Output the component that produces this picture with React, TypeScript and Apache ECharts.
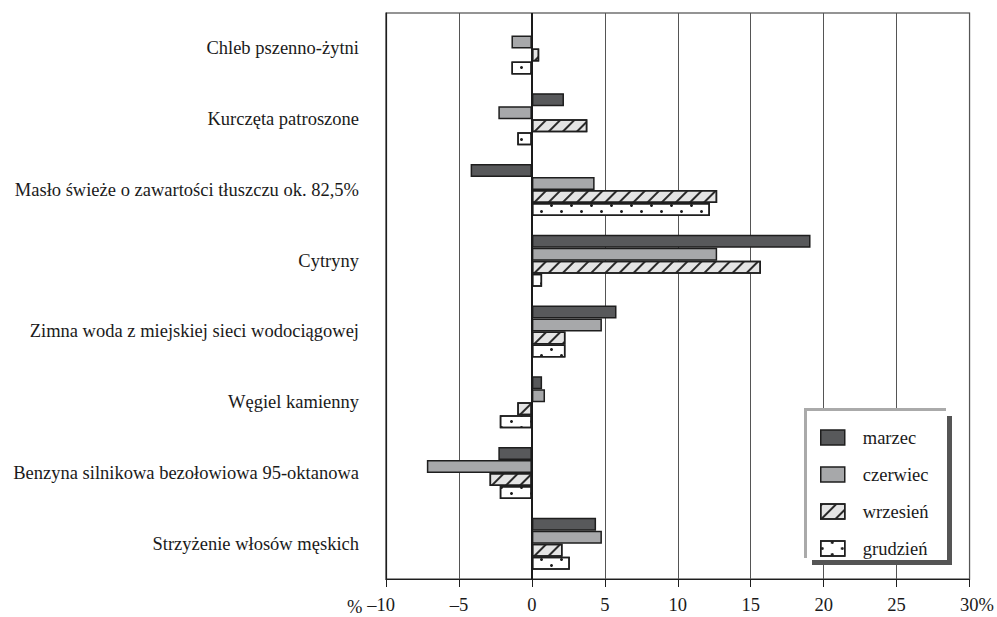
import React, { useEffect, useRef } from "react";
import * as echarts from "echarts";

const categories = [
  "Chleb pszenno-żytni",
  "Kurczęta patroszone",
  "Masło świeże o zawartości tłuszczu ok. 82,5%",
  "Cytryny",
  "Zimna woda z miejskiej sieci wodociągowej",
  "Węgiel kamienny",
  "Benzyna silnikowa bezołowiowa 95-oktanowa",
  "Strzyżenie włosów męskich",
];

const seriesNames = ["marzec", "czerwiec", "wrzesień", "grudzień"];

const marzec = [0, 2.2, -4.2, 19.1, 5.8, 0.7, -2.3, 4.4];
const czerwiec = [-1.4, -2.3, 4.3, 12.7, 4.8, 0.9, -7.2, 4.8];
const wrzesien = [0.5, 3.8, 12.7, 15.7, 2.3, -1.0, -2.9, 2.1];
const grudzien = [-1.4, -1.0, 12.2, 0.7, 2.3, -2.2, -2.2, 2.6];

const xMin = -10;
const xMax = 30;
const xStep = 5;

const FONT = "Liberation Serif";
const FS = 18.5;

export default function App() {
  const ref = useRef<HTMLDivElement>(null);

  useEffect(() => {
    document.body.style.margin = "0";
    if (!ref.current) return;
    const chart = echarts.init(ref.current, undefined, { renderer: "svg" });

    const border = { borderColor: "#1e1e1e", borderWidth: 1.5 };

    const styles: any[] = [
      { color: "#58595b", ...border },
      { color: "#a7a8aa", ...border },
      {
        color: "#e4e4e4",
        ...border,
        decal: {
          symbol: "rect",
          symbolSize: 1,
          color: "#2a2a2a",
          backgroundColor: "#e4e4e4",
          dashArrayX: [1, 0],
          dashArrayY: [1.2, 7.8],
          rotation: -Math.PI / 4,
        },
      },
      {
        color: "#ffffff",
        ...border,
        decal: {
          symbol: "circle",
          symbolSize: 1,
          color: "#1e1e1e",
          backgroundColor: "#ffffff",
          dashArrayX: [
            [3, 17],
            [0, 10, 3, 7],
          ],
          dashArrayY: [3, 3],
          rotation: 0,
        },
      },
    ];

    const data = [marzec, czerwiec, wrzesien, grudzien];

    const series: any[] = seriesNames.map((name, i) => ({
      name,
      type: "bar",
      data: data[i],
      barWidth: 13,
      barGap: "0%",
      itemStyle: styles[i],
      emphasis: { disabled: true },
      ...(i === 3
        ? {
            markLine: {
              silent: true,
              symbol: ["none", "none"],
              label: { show: false },
              lineStyle: { color: "#1a1a1a", width: 2, type: "solid" },
              data: [{ xAxis: 0 }],
              animation: false,
            },
          }
        : {}),
    }));

    chart.setOption({
      animation: false,
      textStyle: { fontFamily: FONT },
      grid: {
        left: 386,
        right: 25,
        top: 13,
        bottom: 38,
        show: true,
        borderColor: "#2a2a2a",
        borderWidth: 1.2,
        backgroundColor: "transparent",
      },
      xAxis: {
        type: "value",
        min: xMin,
        max: xMax,
        interval: xStep,
        axisLine: { show: true, onZero: false, lineStyle: { color: "#1e1e1e", width: 1.2 } },
        axisTick: { show: true, length: 8, lineStyle: { color: "#1e1e1e" } },
        splitLine: { show: true, lineStyle: { color: "#555", width: 1 } },
        axisLabel: {
          fontFamily: FONT,
          fontSize: FS,
          color: "#1a1a1a",
          margin: 16,
          formatter: (v: number) => {
            if (v === xMin) return "{l|–10}";
            if (v === xMax) return "{r|30%}";
            return v < 0 ? "–" + Math.abs(v) : String(v);
          },
          rich: {
            l: { fontFamily: FONT, fontSize: FS, color: "#1a1a1a", padding: [0, 10, 0, 0] },
            r: { fontFamily: FONT, fontSize: FS, color: "#1a1a1a", padding: [0, 0, 0, 15] },
          },
        },
      },
      yAxis: {
        type: "category",
        data: categories,
        inverse: true,
        axisLine: { show: true, onZero: false, lineStyle: { color: "#1e1e1e", width: 1.2 } },
        axisTick: { show: false },
        splitLine: { show: false },
        axisLabel: {
          fontFamily: FONT,
          fontSize: FS,
          color: "#1a1a1a",
          margin: 27,
        },
      },
      legend: {
        orient: "vertical",
        left: 820,
        top: 428,
        padding: 0,
        itemWidth: 24,
        itemHeight: 15,
        itemGap: 18,
        icon: "rect",
        z: 20,
        selectedMode: false,
        itemStyle: { borderColor: "#1e1e1e", borderWidth: 1.5 },
        textStyle: {
          fontFamily: FONT,
          fontSize: FS,
          color: "#1a1a1a",
          padding: [0, 0, 0, 13],
        },
        data: seriesNames,
      },
      graphic: [
        {
          type: "rect",
          z: 15,
          shape: { x: 812, y: 416, width: 140, height: 149 },
          style: { fill: "#555" },
        },
        {
          type: "rect",
          z: 16,
          shape: { x: 804, y: 408, width: 143, height: 152 },
          style: { fill: "#fff" },
        },
        {
          type: "line",
          z: 17,
          shape: { x1: 804, y1: 409.5, x2: 946, y2: 409.5 },
          style: { stroke: "#aaa", lineWidth: 3 },
        },
        {
          type: "line",
          z: 17,
          shape: { x1: 805.5, y1: 408, x2: 805.5, y2: 558 },
          style: { stroke: "#aaa", lineWidth: 3 },
        },
        {
          type: "text",
          z: 17,
          x: 347,
          y: 597,
          style: { text: "%", fontFamily: FONT, fontSize: FS, fill: "#1a1a1a" },
        },
      ],
      series,
    });

    return () => chart.dispose();
  }, []);

  return <div ref={ref} style={{ width: 997, height: 617 }} />;
}
